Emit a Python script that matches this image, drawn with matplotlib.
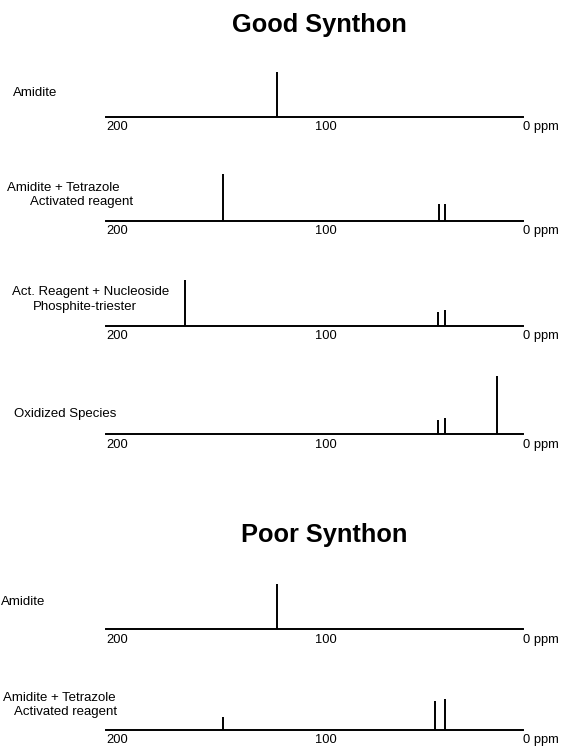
import matplotlib
matplotlib.use("Agg")
import matplotlib.pyplot as plt

plt.rcParams['font.family'] = ['Liberation Sans', 'DejaVu Sans']

W, H = 561, 746

# Datos: desplazamientos (ppm) e intensidades relativas de cada espectro 31P
tick_vals = [200, 100, 0]
tick_labels = ["200", "100", "0 ppm"]

good_title = "Good Synthon"
poor_title = "Poor Synthon"

good_amidite_ppm = [118]
good_amidite_int = [45]
good_activated_ppm = [144, 40.5, 37.5]
good_activated_int = [46.5, 16.5, 16.5]
good_phosphite_ppm = [162, 41, 37.5]
good_phosphite_int = [46, 14.5, 16]
good_oxidized_ppm = [41, 37.5, 12.6]
good_oxidized_int = [14.5, 16, 58]

poor_amidite_ppm = [118]
poor_amidite_int = [45]
poor_activated_ppm = [144, 42, 37.5]
poor_activated_int = [13, 29, 30.5]

# Paneles: (ppm, intensidades, etiqueta)
panels = [
    (good_amidite_ppm, good_amidite_int, ["Amidite"]),
    (good_activated_ppm, good_activated_int, ["Amidite + Tetrazole", "Activated reagent"]),
    (good_phosphite_ppm, good_phosphite_int, ["Act. Reagent + Nucleoside", "Phosphite-triester"]),
    (good_oxidized_ppm, good_oxidized_int, ["Oxidized Species"]),
    (poor_amidite_ppm, poor_amidite_int, ["Amidite"]),
    (poor_activated_ppm, poor_activated_int, ["Amidite + Tetrazole", "Activated reagent"]),
]

# Disposición en píxeles
baselines = [116.7, 220.7, 326, 434.3, 629.3, 729.7]
label_pos = [
    [(12.5, 93.3)],
    [(7.2, 187.7), (30.4, 201.7)],
    [(12.5, 291.7), (33.2, 306.7)],
    [(14.3, 414)],
    [(0.5, 602.3)],
    [(2.9, 697.7), (13.6, 711.7)],
]
x0, x1 = 106, 523
panel_h = 65

fig = plt.figure(figsize=(W / 100, H / 100), dpi=100)

for (ppm, inten, lines), yb, lpos in zip(panels, baselines, label_pos):
    ax = fig.add_axes([x0 / W, 1 - yb / H, (x1 - x0) / W, panel_h / H])
    ax.set_xlim(200, 0)
    ax.set_ylim(0, panel_h)
    ax.vlines(ppm, 0, inten, color='black', lw=1.4, clip_on=False)
    for s in ['top', 'left', 'right']:
        ax.spines[s].set_visible(False)
    ax.spines['bottom'].set_linewidth(1.4)
    ax.set_yticks([])
    ax.set_xticks(tick_vals)
    ax.set_xticklabels(tick_labels, ha='left', fontsize=9.3)
    ax.tick_params(axis='x', length=0, pad=3.2)
    ax.patch.set_visible(False)
    for txt, (lx, ly) in zip(lines, lpos):
        fig.text(lx / W, 1 - ly / H, txt, fontsize=9.5, ha='left', va='center')

fig.text(319.5 / W, 1 - 32 / H, good_title, fontsize=18.3, fontweight='bold',
         ha='center', va='baseline')
fig.text(324.7 / W, 1 - 542 / H, poor_title, fontsize=18.3, fontweight='bold',
         ha='center', va='baseline')

fig.savefig("out.png", dpi=100)
